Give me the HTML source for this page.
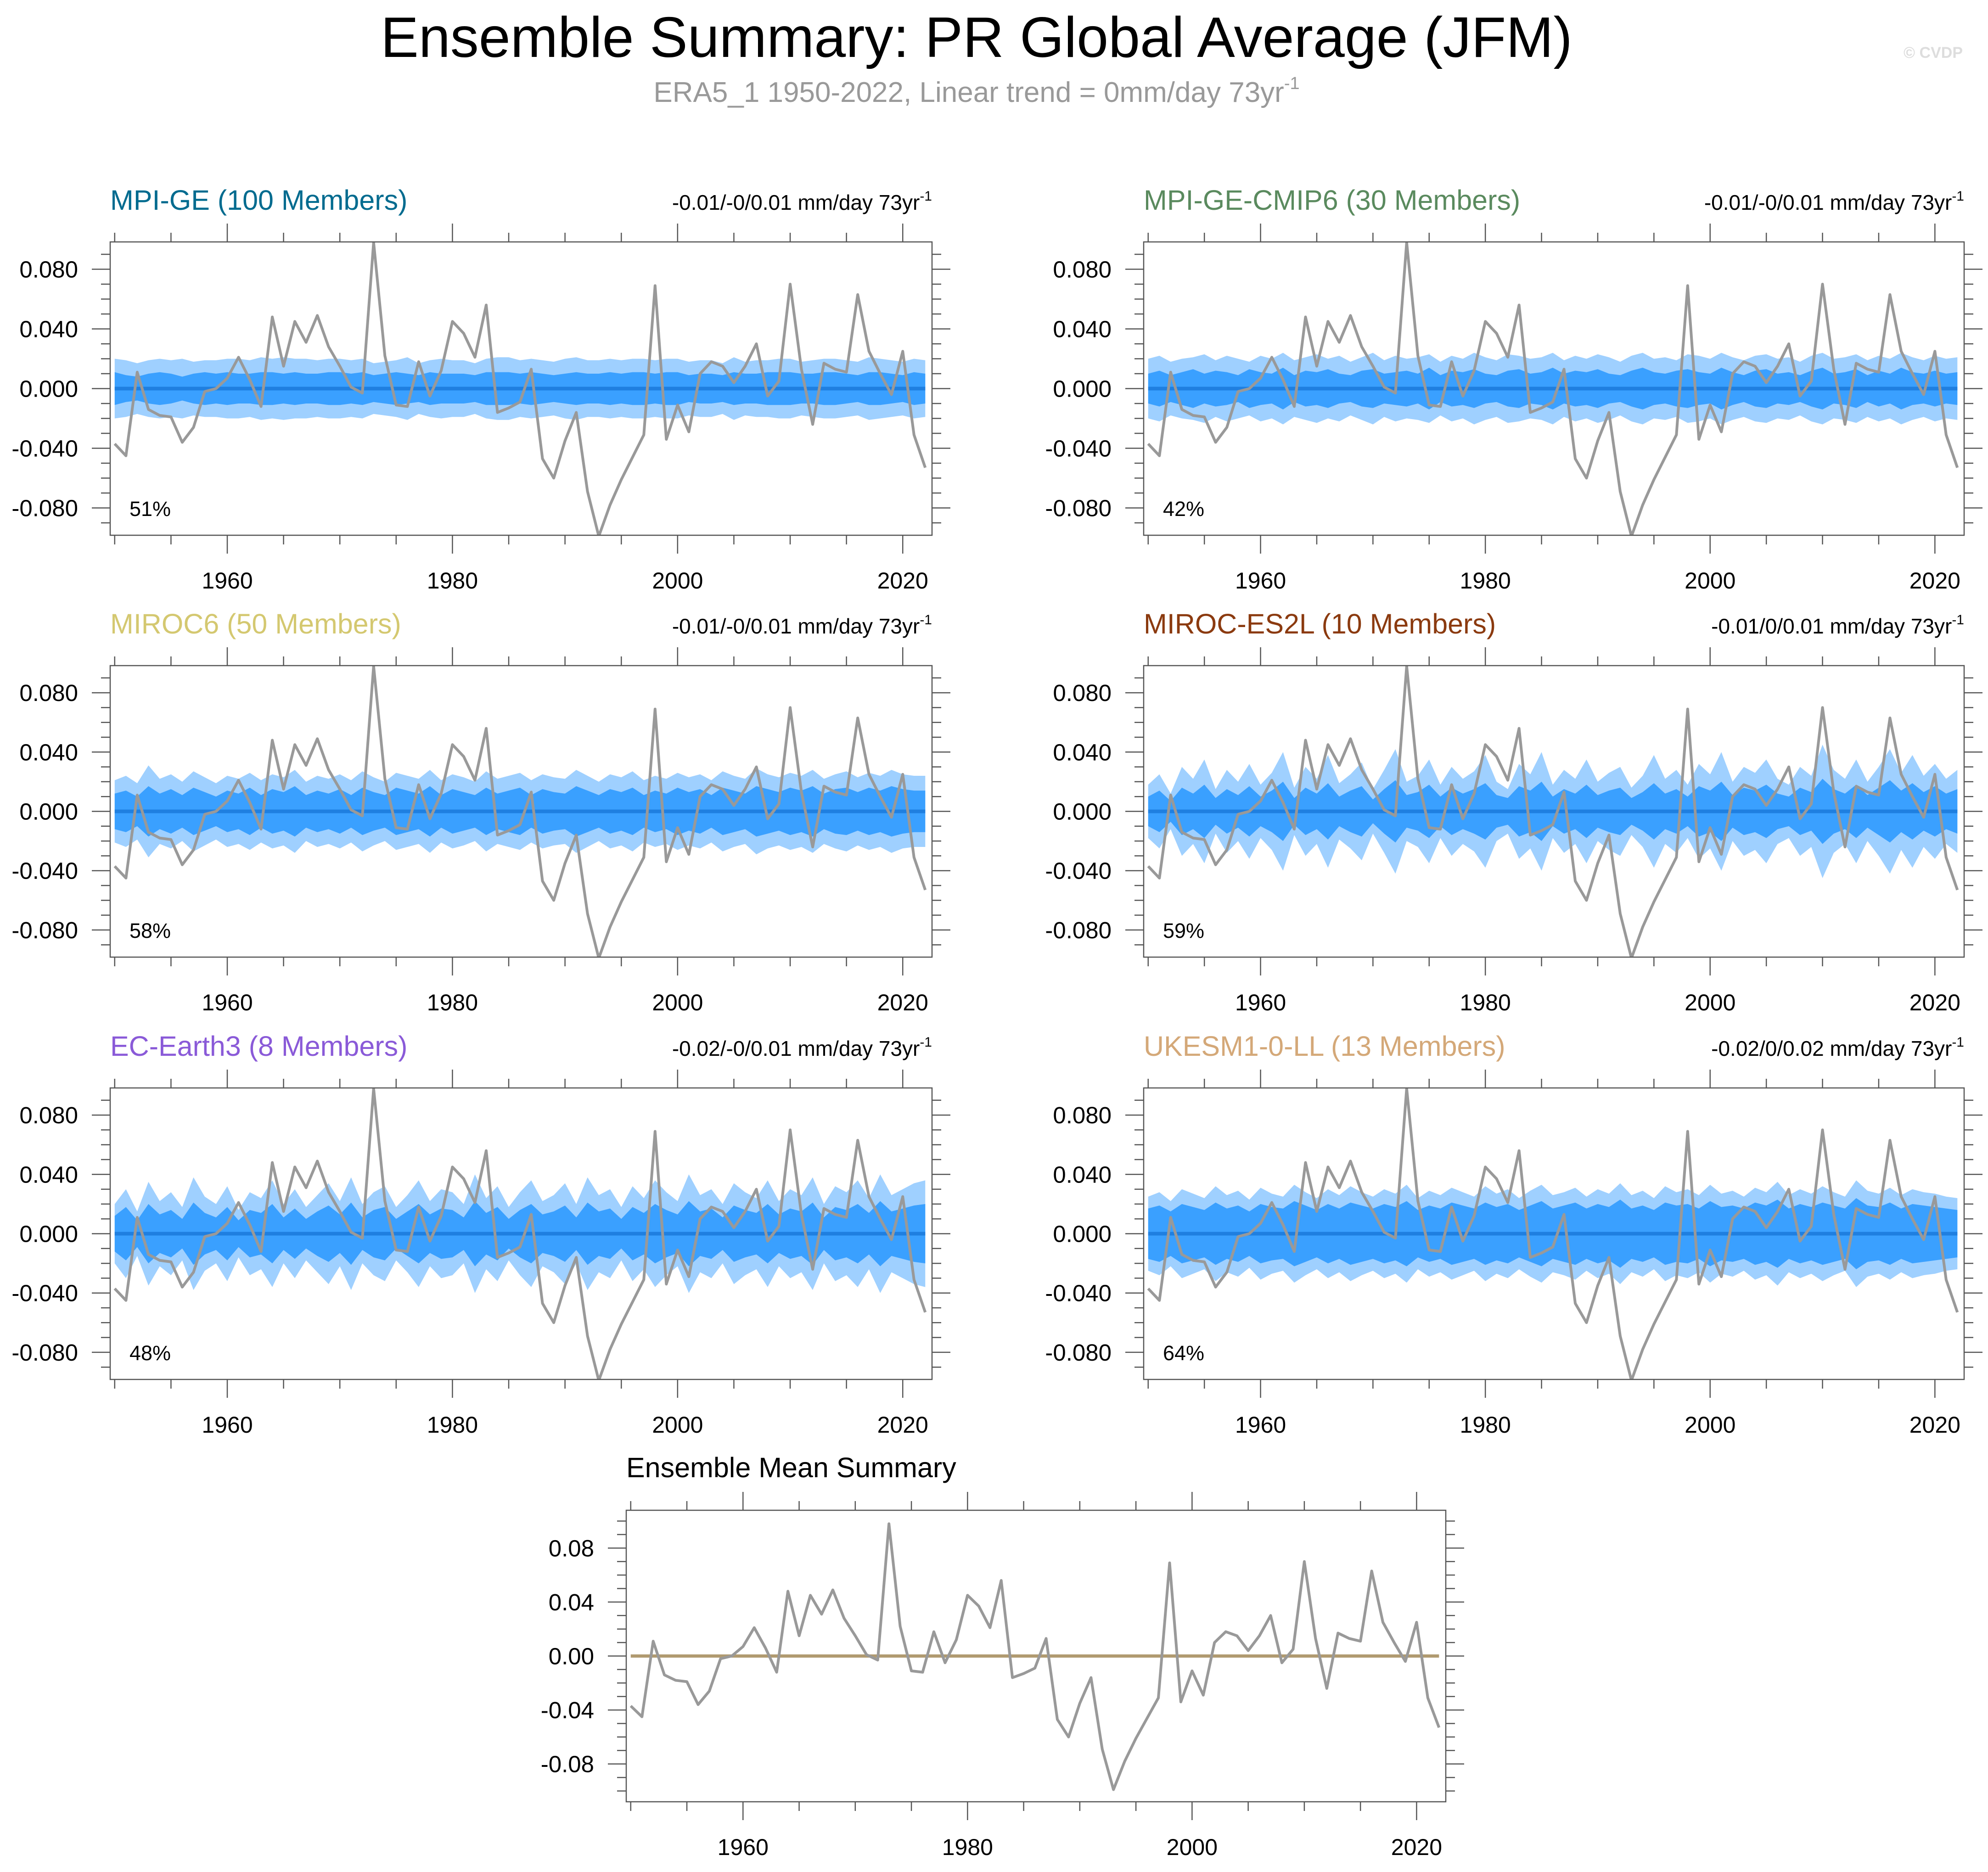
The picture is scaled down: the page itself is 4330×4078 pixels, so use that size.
<!DOCTYPE html>
<html><head><meta charset="utf-8"><style>
html,body{margin:0;padding:0;background:#fff}
svg{display:block}
text{font-family:"Liberation Sans",sans-serif}
</style></head><body>
<svg id="chart" width="4330" height="4078" viewBox="0 0 4330 4078" xmlns="http://www.w3.org/2000/svg">
<text x="2127" y="124" font-size="124" text-anchor="middle" fill="#000">Ensemble Summary: PR Global Average (JFM)</text>
<text x="2127" y="222" font-size="62" text-anchor="middle" fill="#999">ERA5_1 1950-2022, Linear trend = 0mm/day 73yr<tspan font-size="38" dy="-28">-1</tspan></text>
<text x="4275" y="126" font-size="34" font-weight="bold" text-anchor="end" fill="#ddd">© CVDP</text>
</svg>
<script>
const years = Array.from({length:73},(_, i)=>1950+i);
const obsValues = [-0.037,-0.045,0.011,-0.014,-0.018,-0.019,-0.036,-0.026,-0.002,0.000,0.007,0.021,0.006,-0.012,0.048,0.015,0.045,0.031,0.049,0.028,0.015,0.001,-0.003,0.098,0.022,-0.011,-0.012,0.018,-0.005,0.012,0.045,0.037,0.021,0.056,-0.016,-0.013,-0.009,0.013,-0.047,-0.060,-0.035,-0.016,-0.069,-0.099,-0.078,-0.061,-0.046,-0.031,0.069,-0.034,-0.011,-0.029,0.010,0.018,0.015,0.004,0.015,0.030,-0.005,0.005,0.070,0.013,-0.024,0.017,0.013,0.011,0.063,0.025,0.010,-0.004,0.025,-0.031,-0.053];
const panelNames = ["MPI-GE (100 Members)","MPI-GE-CMIP6 (30 Members)","MIROC6 (50 Members)","MIROC-ES2L (10 Members)","EC-Earth3 (8 Members)","UKESM1-0-LL (13 Members)"];
const panelColors = ["#006b8f","#5a8a5e","#d4c870","#8b3a0f","#8a5ad8","#d4a878"];
const trendLabels = ["-0.01/-0/0.01","-0.01/-0/0.01","-0.01/-0/0.01","-0.01/0/0.01","-0.02/-0/0.01","-0.02/0/0.02"];
const pctLabels = ["51%","42%","58%","59%","48%","64%"];
const xTicks = [1960,1980,2000,2020];
const yTicks = [-0.08,-0.04,0,0.04,0.08];
const outer1=[20,19,17,19,20,19,20,18,19,19,20,20,19,21,20,21,20,20,19,20,20,19,20,17,18,19,21,17,19,20,19,19,17,20,21,21,19,20,19,18,20,21,19,19,20,19,20,20,19,20,20,18,19,19,17,21,18,19,19,20,20,18,19,20,20,19,18,21,20,19,18,20,19];
const inner1=[11,9,8,10,11,10,8,10,11,10,11,10,10,11,11,10,11,10,10,11,11,10,11,9,10,11,10,9,11,10,10,10,9,11,11,11,10,11,10,9,10,11,10,10,11,10,11,11,10,11,11,9,10,10,9,11,10,10,11,11,11,10,10,11,11,10,9,11,11,10,9,11,10];
const outer2=[20,22,18,20,21,23,19,22,20,18,22,20,24,19,21,23,20,22,18,21,24,19,22,20,21,23,18,22,20,24,21,19,23,22,20,21,24,19,22,20,23,21,18,22,24,20,21,19,23,22,20,24,21,19,22,23,20,21,18,22,24,20,21,23,19,22,20,24,21,19,22,20,21];
const inner2=[10,12,9,11,13,10,12,11,9,13,11,10,14,9,12,11,13,10,9,12,13,10,11,12,10,14,9,12,11,13,10,9,12,13,10,11,14,10,12,11,13,10,9,12,14,11,10,12,13,11,10,14,11,9,12,13,10,11,9,12,14,10,11,13,9,12,10,14,11,10,12,10,11];
const outer3=[21,24,19,31,22,25,20,27,23,19,24,22,26,21,25,23,28,20,24,22,25,21,27,23,20,26,24,22,28,21,25,23,20,27,22,24,26,21,25,23,22,28,24,20,25,23,27,21,24,22,26,23,25,21,27,24,22,29,25,23,26,24,28,22,25,27,23,26,24,28,25,24,24];
const inner3=[12,14,10,17,12,15,11,16,13,10,14,12,16,11,15,13,17,11,14,12,15,11,16,13,11,16,14,12,17,11,15,13,11,16,12,14,16,11,15,13,12,17,14,11,15,13,16,11,14,12,16,13,15,11,16,14,12,17,15,13,16,14,17,12,15,16,13,16,14,17,15,14,14];
const outer4=[18,25,12,30,22,35,15,28,20,32,18,26,40,16,30,22,38,19,25,33,15,28,42,20,24,35,18,30,22,27,38,20,15,32,25,40,18,28,22,35,20,26,30,16,24,38,22,28,18,32,25,40,20,30,26,35,22,18,30,24,45,28,22,35,20,30,42,26,38,24,32,22,28];
const inner4=[10,14,7,16,12,18,9,15,11,17,10,14,20,9,16,12,19,10,14,17,8,15,21,11,13,18,10,16,12,15,19,11,9,17,14,20,10,15,12,18,11,14,16,9,13,19,12,15,10,17,14,20,11,16,14,18,12,10,16,13,22,15,12,18,11,16,21,14,19,13,17,12,15];
const outer5=[20,30,15,35,22,28,18,38,25,20,32,16,28,24,36,20,30,18,26,34,22,38,20,28,32,18,26,36,22,30,28,20,40,24,32,18,28,36,22,26,34,20,38,26,30,18,32,24,36,28,22,40,26,30,20,34,28,24,36,22,30,26,38,20,32,28,36,24,40,26,30,34,36];
const inner5=[12,18,9,20,13,16,10,21,14,11,18,9,16,14,20,11,17,10,15,19,13,21,11,16,18,10,15,20,13,17,16,11,22,14,18,10,16,20,13,15,19,11,21,15,17,10,18,14,20,16,13,22,15,17,11,19,16,14,20,13,17,15,21,11,18,16,20,14,22,15,17,19,20];
const outer6=[25,28,22,30,27,24,32,26,29,23,31,27,25,33,28,24,30,26,32,28,25,30,27,33,24,29,26,31,28,25,32,27,30,24,29,33,26,28,31,25,30,27,34,26,29,24,32,28,30,26,33,27,29,25,31,28,35,26,30,27,32,28,25,36,29,27,31,26,30,28,27,25,24];
const inner6=[17,19,15,20,18,16,21,17,19,15,20,18,17,22,19,16,20,17,21,19,17,20,18,22,16,19,17,21,19,17,21,18,20,16,19,22,17,19,21,17,20,18,23,17,19,16,21,19,20,17,22,18,19,17,21,19,23,17,20,18,21,19,17,24,19,18,21,17,20,19,18,17,16];
const outers=[outer1,outer2,outer3,outer4,outer5,outer6];
const inners=[inner1,inner2,inner3,inner4,inner5,inner6];
const ensMean=[0,0,0,0,0,0];

const NS="http://www.w3.org/2000/svg";
const svg=document.getElementById('chart');
function mk(tag,attrs,parent){const e=document.createElementNS(NS,tag);for(const k in attrs)e.setAttribute(k,attrs[k]);(parent||svg).appendChild(e);return e;}

function drawPanel(idx,L,T,R,B,yMax,decimals,isMean){
  const g=mk('g',{});
  
  
  const x0=1949.6,x1=2022.6;
  const xs=v=>L+(v-x0)/(x1-x0)*(R-L);
  const ys=v=>(T+B)/2-v/yMax*(B-T)/2;
  const cid='clip'+idx;
  const cp=mk('clipPath',{id:cid},g);mk('rect',{x:L,y:T,width:R-L,height:B-T},cp);
  const pg=mk('g',{'clip-path':'url(#'+cid+')'},g);
  if(!isMean){
    const out=outers[idx],inn=inners[idx],m=ensMean[idx];
    const band=(arr,col,nm)=>{
      let up=years.map((y,i)=>xs(y)+','+ys(m+arr[i]/1000));
      let lo=years.map((y,i)=>xs(y)+','+ys(m-arr[i]/1000)).reverse();
      const p=mk('polygon',{points:up.concat(lo).join(' '),fill:col},pg);
      
      
    };
    band(out,'#9fd0ff','outer-spread-band');
    band(inn,'#3aa0ff','inner-spread-band');
    const ml=mk('line',{x1:xs(years[0]),x2:xs(years[years.length-1]),y1:ys(m),y2:ys(m),stroke:'#1f7fe0','stroke-width':8},pg);
    
    
  } else {
    const ml=mk('line',{x1:xs(years[0]),x2:xs(years[years.length-1]),y1:ys(0),y2:ys(0),stroke:'#b09a70','stroke-width':7},pg);
    
    
  }
  const ol=mk('polyline',{points:years.map((y,i)=>xs(y)+','+ys(obsValues[i])).join(' '),fill:'none',stroke:'#999','stroke-width':6,'stroke-linejoin':'round'},pg);
  
  
  mk('rect',{x:L,y:T,width:R-L,height:B-T,fill:'none',stroke:'#555','stroke-width':2.5},g);
  for(let y=1950;y<=2020;y+=5){
    const len=(y%20==0)?40:20;const x=xs(y);
    mk('line',{x1:x,x2:x,y1:B,y2:B+len,stroke:'#555','stroke-width':2.5},g);
    mk('line',{x1:x,x2:x,y1:T,y2:T-len,stroke:'#555','stroke-width':2.5},g);
  }
  xTicks.forEach(v=>{
    const t=mk('text',{x:xs(v),y:B+116,'font-size':50,'text-anchor':'middle',fill:'#000'},g);
    t.textContent=v;
    
    
  });
  const step=0.01;
  for(let k=-Math.floor(yMax/step);k<=Math.floor(yMax/step);k++){
    const v=k*step;const major=(k%4==0);const len=major?40:20;const y=ys(v);
    mk('line',{x1:L,x2:L-len,y1:y,y2:y,stroke:'#555','stroke-width':2.5},g);
    mk('line',{x1:R,x2:R+len,y1:y,y2:y,stroke:'#555','stroke-width':2.5},g);
  }
  yTicks.forEach(v=>{
    const t=mk('text',{x:L-70,y:ys(v)+18,'font-size':51,'text-anchor':'end',fill:'#000'},g);
    t.textContent=(Math.abs(v)<1e-9?0:v).toFixed(decimals);
    
    
  });
  if(!isMean){
    const tt=mk('text',{x:L,y:T-70,'font-size':61,fill:panelColors[idx]},g);
    tt.textContent=panelNames[idx];
    
    
    const tr=mk('text',{x:R,y:T-70,'font-size':46,'text-anchor':'end',fill:'#000'},g);
    tr.textContent=trendLabels[idx]+' mm/day 73yr';
    const sp=mk('tspan',{'font-size':30,dy:-20},tr);sp.textContent='-1';
    
    
    const pc=mk('text',{x:L+42,y:B-42,'font-size':45,fill:'#000'},g);
    pc.textContent=pctLabels[idx];
    
    
  } else {
    const tt=mk('text',{x:L,y:T-72,'font-size':61,fill:'#000'},g);
    tt.textContent='Ensemble Mean Summary';
    
    
  }
}
const colsL=[240,2491],colsR=[2030,4278];
const rowsT=[527,1450,2370],rowsB=[1166,2085,3005];
for(let i=0;i<6;i++){
  const c=i%2,r=Math.floor(i/2);
  drawPanel(i,colsL[c],rowsT[r],colsR[c],rowsB[r],0.0983,3,false);
}
drawPanel(6,1364,3290,3149,3925,0.108,2,true);
</script>
</body></html>
